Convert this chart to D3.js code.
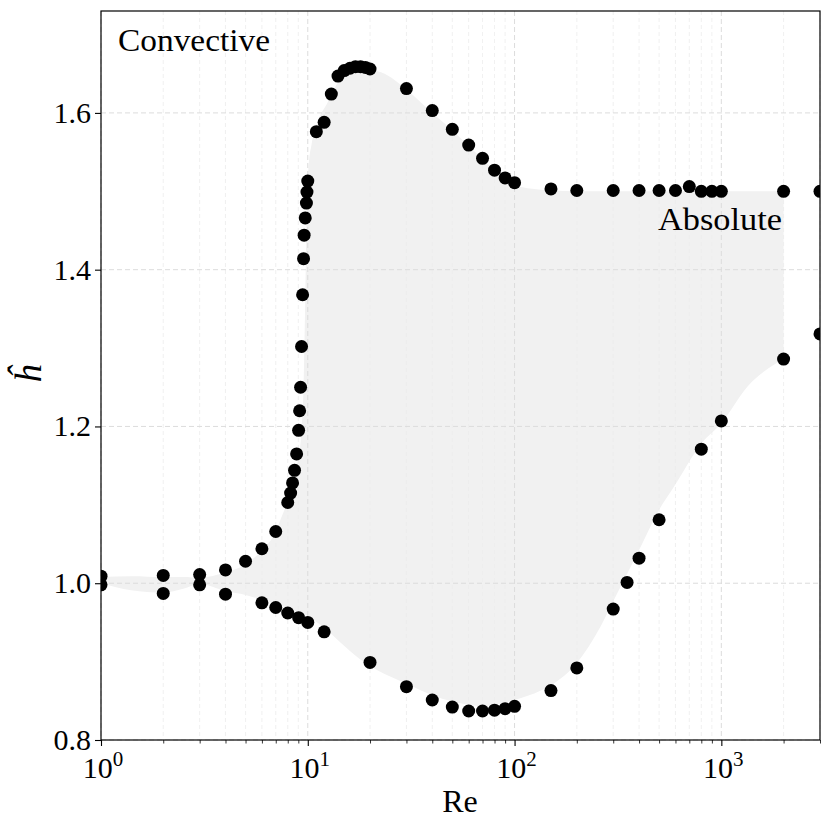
<!DOCTYPE html>
<html><head><meta charset="utf-8">
<script src="https://cdn.jsdelivr.net/npm/d3@7"></script>
<style>body{margin:0;background:#fff}</style>
</head><body><svg id="c" width="830" height="830"></svg>
<script>
// Data points (Re, h-hat)
const pointRe = [1, 1, 2, 2, 3, 3, 4, 4, 5, 6, 6, 7, 7, 8, 8,
  8.26, 8.44, 8.63, 8.83, 9.03, 9.13, 9.23, 9.33, 9.44, 9.54, 9.6, 9.72, 9.85, 9.91, 10.0,
  9.03, 10, 12, 20,
  30, 40, 50, 60, 70, 80, 90, 100, 150, 200, 300, 350, 400, 500, 800, 1000, 2000, 3000,
  11, 12, 13, 14, 15, 16, 17, 18, 19, 20, 30, 40, 50, 60, 70, 80, 90, 100,
  150, 200, 300, 400, 500, 600, 700, 800, 900, 1000, 2000, 3000];
const pointH = [1.009, 0.998, 1.010, 0.987, 1.011, 0.998, 1.017, 0.986, 1.028, 1.044, 0.975, 1.066, 0.969, 1.103, 0.962,
  1.115, 1.128, 1.144, 1.165, 1.195, 1.220, 1.250, 1.302, 1.368, 1.414, 1.444, 1.466, 1.485, 1.499, 1.513,
  0.956, 0.950, 0.938, 0.899,
  0.868, 0.851, 0.842, 0.837, 0.837, 0.838, 0.840, 0.843, 0.863, 0.892, 0.967, 1.001, 1.032, 1.081, 1.171, 1.207, 1.286, 1.318,
  1.576, 1.588, 1.624, 1.647, 1.654, 1.657, 1.659, 1.659, 1.658, 1.656, 1.631, 1.603, 1.579, 1.559, 1.542, 1.527, 1.517, 1.511,
  1.503, 1.501, 1.501, 1.501, 1.501, 1.501, 1.506, 1.500, 1.500, 1.500, 1.500, 1.500];

// Shaded region boundaries
const bandRe   = [1, 1.4, 2, 2.5, 3, 4, 5, 6, 7, 7.4, 8, 8.5, 9, 9.3, 9.55, 9.72, 9.88, 10.06, 10.45, 11.1, 12.4, 14.3, 17.9, 21.7, 30, 40, 50, 60, 70, 80, 100, 134, 150, 200, 261, 300, 408, 491, 590, 805, 1000, 1339, 1803, 2000];
const bandHigh = [1.008, 1.009, 1.008, 1.008, 1.007, 1.014, 1.024, 1.042, 1.066, 1.082, 1.105, 1.128, 1.16, 1.19, 1.255, 1.36, 1.47, 1.527, 1.561, 1.587, 1.612, 1.642, 1.655, 1.653, 1.630, 1.600, 1.578, 1.558, 1.541, 1.527, 1.508, 1.502, 1.501, 1.500, 1.500, 1.500, 1.500, 1.500, 1.500, 1.500, 1.500, 1.500, 1.500, 1.500];
const bandLow  = [1.000, 0.991, 0.988, 0.993, 0.999, 0.990, 0.985, 0.979, 0.974, 0.972, 0.968, 0.966, 0.963, 0.962, 0.961, 0.960, 0.959, 0.958, 0.955, 0.950, 0.940, 0.925, 0.903, 0.889, 0.872, 0.857, 0.849, 0.845, 0.843, 0.845, 0.851, 0.863, 0.870, 0.898, 0.945, 0.977, 1.047, 1.090, 1.123, 1.179, 1.204, 1.251, 1.279, 1.286];

const yTicks = [0.8, 1.0, 1.2, 1.4, 1.6];
const xTicks = [1, 10, 100, 1000];
const xTickExp = ["0", "1", "2", "3"];

const W = 830, H = 830;
const m = {l: 101, r: 820, t: 11, b: 740};
const svg = d3.select("#c");
const x = d3.scaleLog().domain([1, 3000]).range([m.l, m.r]);
const y = d3.scaleLinear().domain([0.8, 1.73]).range([m.b, m.t]);
const FONT = "'Liberation Serif', 'DejaVu Serif', serif";

svg.append("defs").append("clipPath").attr("id", "clip")
  .append("rect").attr("x", m.l).attr("y", m.t).attr("width", m.r - m.l).attr("height", m.b - m.t);

// shaded band
const band = bandRe.map((r, i) => ({re: r, lo: bandLow[i], hi: bandHigh[i]}));
svg.append("path").datum(band)
  .attr("clip-path", "url(#clip)")
  .attr("fill", "#f1f1f1")
  .attr("d", d3.area().x(d => x(d.re)).y0(d => y(d.lo)).y1(d => y(d.hi)).curve(d3.curveMonotoneX));

// minor ticks values
const minor = [];
for (let k = 0; k < 4; k++) for (let j = 2; j <= 9; j++) { const v = j * Math.pow(10, k); if (v <= 3000) minor.push(v); }

const grid = svg.append("g");
grid.selectAll(".mg").data(minor).join("line")
  .attr("x1", d => x(d)).attr("x2", d => x(d)).attr("y1", m.t).attr("y2", m.b)
  .attr("stroke", "#ececec").attr("stroke-width", 0.8).attr("stroke-dasharray", "4,3");
grid.selectAll(".Mg").data(xTicks).join("line")
  .attr("x1", d => x(d)).attr("x2", d => x(d)).attr("y1", m.t).attr("y2", m.b)
  .attr("stroke", "#dcdcdc").attr("stroke-width", 1).attr("stroke-dasharray", "5,3");
grid.selectAll(".yg").data(yTicks).join("line")
  .attr("x1", m.l).attr("x2", m.r).attr("y1", d => y(d)).attr("y2", d => y(d))
  .attr("stroke", "#dcdcdc").attr("stroke-width", 1).attr("stroke-dasharray", "5,3");

// points
svg.append("g").attr("clip-path", "url(#clip)")
  .selectAll("circle").data(pointRe.map((r, i) => [r, pointH[i]])).join("circle")
  .attr("cx", d => x(d[0])).attr("cy", d => y(d[1])).attr("r", 6.5).attr("fill", "#000");

// axes
const xAxis = svg.append("g").attr("transform", `translate(0,${m.b})`)
  .call(d3.axisBottom(x).tickValues(xTicks).tickSize(6).tickFormat(""));
xAxis.select(".domain").remove();
xAxis.selectAll("line").attr("stroke-width", 1.1);
const xMinor = svg.append("g").attr("transform", `translate(0,${m.b})`)
  .call(d3.axisBottom(x).tickValues(minor).tickSize(3.5).tickFormat(""));
xMinor.select(".domain").remove();
xMinor.selectAll("line").attr("stroke-width", 0.8);

const yAxis = svg.append("g").attr("transform", `translate(${m.l},0)`)
  .call(d3.axisLeft(y).tickValues(yTicks).tickSize(6).tickFormat(""));
yAxis.select(".domain").remove();
yAxis.selectAll("line").attr("stroke-width", 1.1);

// frame
svg.append("rect").attr("x", m.l).attr("y", m.t).attr("width", m.r - m.l).attr("height", m.b - m.t)
  .attr("fill", "none").attr("stroke", "#000").attr("stroke-width", 1.2);

// tick labels
xTicks.forEach((v, i) => {
  const t = svg.append("text").attr("x", x(v) + 2).attr("y", 778)
    .attr("text-anchor", "middle").attr("font-family", FONT).attr("font-size", 30).attr("fill", "#000");
  t.append("tspan").text("10");
  t.append("tspan").attr("dy", -12).attr("font-size", 21).text(xTickExp[i]);
});
yTicks.forEach(v => {
  svg.append("text").attr("x", 91).attr("y", y(v) + 10)
    .attr("text-anchor", "end").attr("font-family", FONT).attr("font-size", 30).attr("fill", "#000")
    .text(v.toFixed(1));
});

// axis labels
svg.append("text").attr("x", 460).attr("y", 812).attr("text-anchor", "middle")
  .attr("font-family", FONT).attr("font-size", 32).text("Re");
svg.append("text").attr("transform", "translate(41,374) rotate(-90)").attr("text-anchor", "middle")
  .attr("font-family", FONT).attr("font-size", 37).attr("font-style", "italic").text("ĥ");

// annotations
svg.append("text").attr("x", 118).attr("y", 51).attr("font-family", FONT).attr("font-size", 31)
  .attr("textLength", 152).attr("lengthAdjust", "spacingAndGlyphs").text("Convective");
svg.append("text").attr("x", 658).attr("y", 230).attr("font-family", FONT).attr("font-size", 31)
  .attr("textLength", 124).attr("lengthAdjust", "spacingAndGlyphs").text("Absolute");
</script></body></html>
